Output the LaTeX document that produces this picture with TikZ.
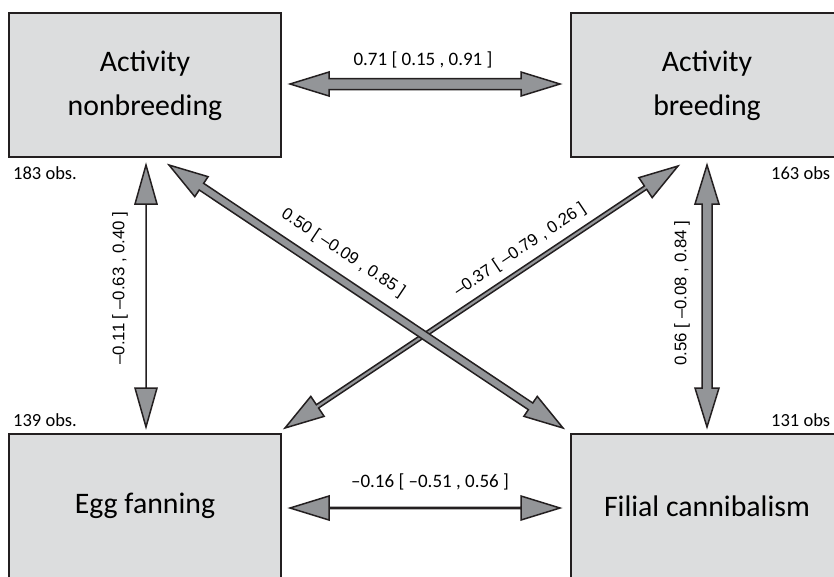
\documentclass[tikz,border=0pt]{standalone}
\usepackage{fontspec}
\setmainfont{Carlito}
\newfontfamily\labfont{Liberation Sans}
\usetikzlibrary{calc}
\definecolor{boxgray}{HTML}{DCDDDE}
\definecolor{arrowgray}{HTML}{939598}
\definecolor{edgedark}{HTML}{231F20}
\tikzset{
  box/.style = {draw=edgedark, line width=2pt, fill=boxgray, minimum width=272pt,
    minimum height=144pt, align=center, font=\fontsize{29.8}{44}\selectfont, inner sep=0pt},
  obs/.style = {anchor=west, font=\fontsize{18.5}{20}\selectfont, inner sep=0pt},
  lab/.style = {font=\fontsize{19}{20}\selectfont, inner sep=0pt},
  rlab/.style = {font=\labfont\fontsize{16.8}{20}\selectfont, inner sep=0pt},
  arrowshape/.style = {draw=edgedark, line width=1.5pt, fill=arrowgray, line join=miter}
}
\newcommand{\twolines}[2]{\raisebox{-4pt}{\begin{tabular}{@{}c@{}}#1\\#2\end{tabular}}}
% #2 from, #3 to, #4 half shaft, #5 half head
\newcommand{\corrarrow}[5][]{%
  \draw[arrowshape,#1] (#2)
    -- ($(#2)!39pt!(#3)!#5!90:(#3)$)
    -- ($(#2)!39pt!(#3)!#4!90:(#3)$)
    -- ($(#3)!39pt!(#2)!#4!-90:(#2)$)
    -- ($(#3)!39pt!(#2)!#5!-90:(#2)$)
    -- (#3)
    -- ($(#3)!39pt!(#2)!#5!90:(#2)$)
    -- ($(#3)!39pt!(#2)!#4!90:(#2)$)
    -- ($(#2)!39pt!(#3)!#4!-90:(#3)$)
    -- ($(#2)!39pt!(#3)!#5!-90:(#3)$)
    -- cycle;}
\begin{document}
\begin{tikzpicture}[x=1pt, y=-1pt]
	\useasboundingbox (0,0) rectangle (834,576);
	\node[box] (actnb) at (145,85) {\twolines{Activity}{nonbreeding}};
	\node[box] (actb) at (707,85) {\twolines{Activity}{breeding}};
	\node[box] (egg) at (145,506) {Egg fanning};
	\node[box] (fil) at (707,506) {Filial cannibalism};
	\node[obs] (obsnb) at (13,173) {183 obs.};
	\node[obs] (obsb) at (771,173) {163 obs};
	\node[obs] (obsegg) at (13,420) {139 obs.};
	\node[obs] (obsfil) at (771,420) {131 obs};
	\coordinate (top-l) at (290,84);
	\coordinate (top-r) at (560,84);
	\coordinate (bot-l) at (290,508);
	\coordinate (bot-r) at (560,508);
	\coordinate (left-t) at (146,165);
	\coordinate (left-b) at (146,427);
	\coordinate (right-t) at (707,165);
	\coordinate (right-b) at (707,427);
	\coordinate (nb-diag) at (169,165);
	\coordinate (fil-diag) at (563,428);
	\coordinate (b-diag) at (678,166);
	\coordinate (egg-diag) at (285,428);
	\corrarrow{top-l}{top-r}{5.5pt}{12pt}
	\corrarrow{bot-l}{bot-r}{0.6pt}{12pt}
	\corrarrow{left-t}{left-b}{0pt}{11pt}
	\corrarrow{right-t}{right-b}{5pt}{12pt}
	\corrarrow{b-diag}{egg-diag}{2pt}{12pt}
	\corrarrow{nb-diag}{fil-diag}{4pt}{12pt}
	\node[lab] (labtop) at (423,60) {0.71 [ 0.15 , 0.91 ]};
	\node[lab] (labbot) at (430,482) {–0.16 [ –0.51 , 0.56 ]};
	\node[rlab, rotate=90] (lableft) at (120,288) {–0.11 [ –0.63 , 0.40 ]};
	\node[rlab, rotate=90] (labright) at (682,293) {0.56 [ –0.08 , 0.84 ]};
	\node[rlab, rotate=-33.7] (labnb) at (343,253) {0.50 [ –0.09 , 0.85 ]};
	\node[rlab, rotate=33.7] (labb) at (520,250) {–0.37 [ –0.79 , 0.26 ]};
\end{tikzpicture}
\end{document}
